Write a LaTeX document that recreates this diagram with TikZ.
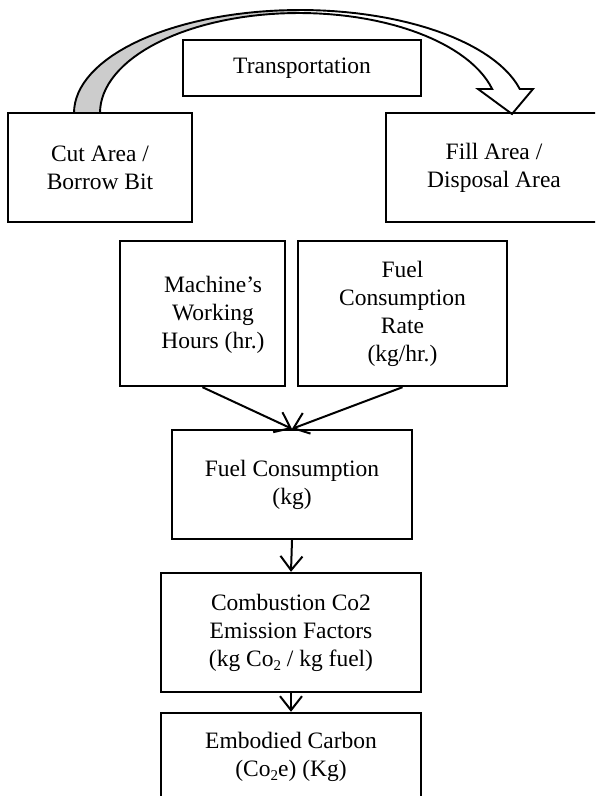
\documentclass[tikz,border=0pt]{standalone}
\usepackage{fontspec}
\setmainfont{Liberation Serif}
\usetikzlibrary{arrows.meta}

\newcommand{\lowtwo}{\raisebox{-4.5pt}{\fontsize{15}{15}\selectfont 2}}

\tikzset{
  box/.style={draw, line width=2.4pt, inner sep=0pt, align=center,
    font=\fontsize{23.5}{28}\selectfont},
  txt/.style={inner sep=0pt, align=center, font=\fontsize{23.5}{28}\selectfont},
  link/.style={line width=2pt,
    -{Straight Barb[length=14pt, width=22pt, line width=2pt]}},
}

\begin{document}
\begin{tikzpicture}[x=1pt, y=-1pt]
  \useasboundingbox (0,0) rectangle (595,796);
  \clip (0,0) rectangle (595,796);

  % Curved transport arrow
  \fill[black!20] plot[domain=180:90, samples=40] ({300+226*cos(\x)}, {113-103*sin(\x)})
    -- plot[domain=90:180, samples=40] ({299+199*cos(\x)}, {113-100*sin(\x)}) -- cycle;
  \draw[line width=1.9pt, line join=miter]
    plot[domain=180:13.47, samples=60] ({300+226*cos(\x)}, {113-103*sin(\x)})
    -- (533,89) -- (512,114) -- (478,89)
    -- plot[domain=13.89:180, samples=60] ({299+199*cos(\x)}, {113-100*sin(\x)}) -- cycle;

  % Boxes
  \node[box, minimum width=184pt, minimum height=109pt] (cutarea) at (100,167.5) {Cut Area /\\Borrow Bit};
  \node[box, minimum width=216pt, minimum height=109pt] (fillarea) at (494,167.5) {Fill Area /\\Disposal Area};
  \node[box, minimum width=238pt, minimum height=56pt] (trans) at (302,68) {Transportation};

  \node[box, minimum width=165pt, minimum height=145pt] (hours) at (202.5,313.5) {};
  \node[txt] (hourstxt) at (213,315) {Machine's\\Working\\Hours (hr.)};
  \node[box, minimum width=209pt, minimum height=145pt] (rate) at (402.5,313.5) {Fuel\\Consumption\\Rate\\(kg/hr.)};

  \node[box, minimum width=240pt, minimum height=109pt] (fuel) at (292,484.5) {Fuel Consumption\\(kg)};
  \node[box, minimum width=260pt, minimum height=119pt] (factor) at (291,632.5) {Combustion Co2\\Emission Factors\\(kg Co\lowtwo\ / kg fuel)};
  \node[box, minimum width=260pt, minimum height=87pt] (carbon) at (291,756.5) {Embodied Carbon\\(Co\lowtwo e) (Kg)};

  % Arrows
  \draw[link] (hours.south) -- (fuel.north);
  \draw[link] (rate.south) -- (fuel.north);
  \draw[link] (fuel.south) -- (factor.north);
  \draw[link] (factor.south) -- (carbon.north);
\end{tikzpicture}
\end{document}
